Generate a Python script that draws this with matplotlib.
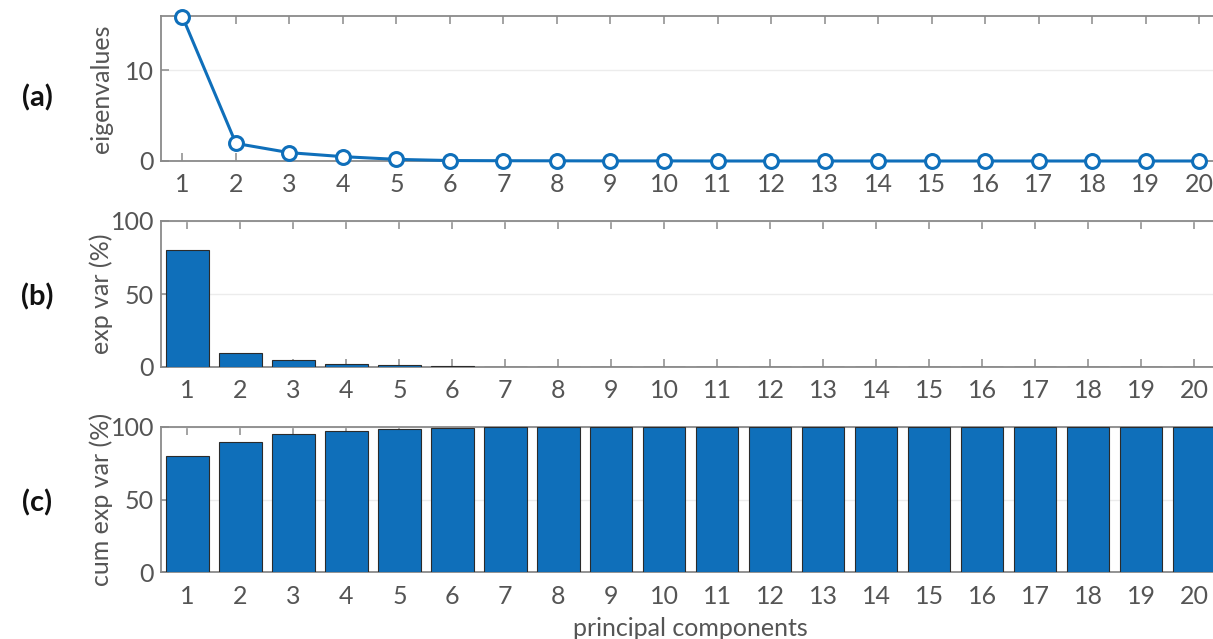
import matplotlib
matplotlib.use("Agg")
import matplotlib.pyplot as plt
import numpy as np

plt.rcParams.update({
    "font.family": ["Lato", "DejaVu Sans"],
    "font.size": 18,
    "axes.edgecolor": "#8a8a8a",
    "axes.linewidth": 1.3,
    "xtick.color": "#8a8a8a",
    "ytick.color": "#8a8a8a",
    "xtick.labelcolor": "#555555",
    "ytick.labelcolor": "#555555",
})

BLUE = "#0F6FBA"

components = np.arange(1, 21)
eigenvalues = [15.93, 1.94, 0.92, 0.48, 0.18, 0.05, 0.03, 0.02, 0.01, 0.01,
               0.0, 0.0, 0.0, 0.0, 0.0, 0.0, 0.0, 0.0, 0.0, 0.0]
exp_var = [79.9, 9.9, 4.8, 2.3, 1.4, 0.4, 0.2, 0.1, 0.1, 0.05,
           0.0, 0.0, 0.0, 0.0, 0.0, 0.0, 0.0, 0.0, 0.0, 0.0]
cum_exp_var = [79.9, 89.8, 95.2, 97.4, 98.9, 99.5, 99.8, 99.9, 100, 100,
               100, 100, 100, 100, 100, 100, 100, 100, 100, 100]
panel_labels = ["(a)", "(b)", "(c)"]
y_labels = ["eigenvalues", "exp var (%)", "cum exp var (%)"]

W, H = 1213, 639
fig = plt.figure(figsize=(W / 100, H / 100), dpi=100)

left = 161 / W
width = 1059.5 / W
boxes = [(16, 161), (221, 367), (427, 572)]  # top, bottom in px
label_y = [98, 297, 503]
axes = [fig.add_axes([left, 1 - b / H, width, (b - t) / H]) for t, b in boxes]
ax_a, ax_b, ax_c = axes

ax_a.plot(components, eigenvalues, color=BLUE, lw=2.2, marker="o", ms=10,
          mfc="white", mec=BLUE, mew=2.2, zorder=5, clip_on=False)
ax_a.set_ylim(0, 16)
ax_a.set_yticks([0, 10])
ax_a.set_xlim(0.6, 20.4)

ax_b.bar(components, exp_var, width=0.8, color=BLUE, edgecolor="#2b2b2b",
         lw=0.8, zorder=3)
ax_b.set_ylim(0, 100)
ax_b.set_yticks([0, 50, 100])
ax_b.set_xlim(0.5, 20.5)

ax_c.bar(components, cum_exp_var, width=0.8, color=BLUE, edgecolor="#2b2b2b",
         lw=0.8, zorder=3)
ax_c.set_ylim(0, 100)
ax_c.set_yticks([0, 50, 100])
ax_c.set_xlim(0.5, 20.5)
ax_c.set_xlabel("principal components", color="#555555", labelpad=7)

for ax, lab, ylab, ly in zip(axes, panel_labels, y_labels, label_y):
    ax.set_xticks(components)
    ax.tick_params(axis="both", direction="in", length=6, width=1.1,
                   top=True, labelsize=18)
    ax.tick_params(axis="x", pad=9)
    ax.tick_params(axis="y", pad=5)
    ax.yaxis.grid(True, color="#ececec", lw=1.0, zorder=0)
    ax.set_axisbelow(True)
    ax.set_ylabel(ylab, color="#555555", fontsize=18)
    ax.yaxis.set_label_coords(-48 / 1059.5, 0.5)
    fig.text(37 / W, 1 - ly / H, lab, fontsize=21,
             fontweight="bold", ha="center", va="center", color="#111111")

fig.savefig("out.png", dpi=100)
